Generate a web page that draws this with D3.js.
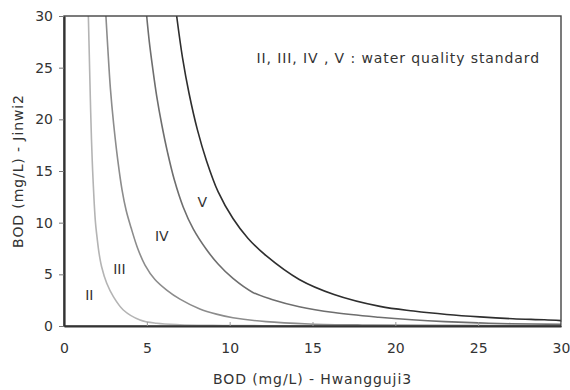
<!DOCTYPE html>
<html>
<head>
<meta charset="utf-8">
<script src="https://cdn.jsdelivr.net/npm/d3@7"></script>
<style>
  body { margin: 0; background: #fff; }
  text { font-family: "DejaVu Sans", "Liberation Sans", sans-serif; fill: #333; }
</style>
</head>
<body>
<div id="container"></div>
<script>
// curve points: [BOD Hwangguji3, BOD Jinwi2]
const curveII = [[1.47,30],[1.53,26],[1.59,22],[1.66,18],[1.73,15],[1.82,12],[1.9,10],[2,8.5],[2.12,7],[2.27,5.74],[2.58,4.13],[2.98,2.84],[3.58,1.55],[4.59,0.58],[5.6,0.26],[7,0.12],[9,0.06],[12,0.03],[30,0.02]]
const curveIII = [[2.53,30],[2.64,27],[2.8,23],[3,19.5],[3.25,16],[3.5,13.2],[3.75,11.2],[4.05,9.5],[4.45,7.5],[4.89,5.9],[5.49,4.5],[6.2,3.48],[7,2.6],[8.2,1.65],[9.2,1.15],[10.2,0.8],[12.2,0.42],[14.8,0.2],[18,0.1],[22,0.06],[30,0.04]]
const curveIV = [[4.99,30],[5.15,27.5],[5.35,25],[5.6,22.2],[5.9,19.5],[6.25,16.8],[6.65,14.2],[7.2,11.5],[7.8,9.4],[8.6,7.4],[9.3,6],[10.2,4.6],[11.4,3.25],[12.6,2.55],[14.2,1.87],[16.3,1.3],[19,0.85],[21,0.6],[23,0.42],[25,0.3],[27,0.22],[30,0.16]]
const curveV = [[6.8,30],[7.15,26],[7.55,22.5],[8.05,19],[8.6,16],[9.3,13],[10.2,10.4],[11.1,8.5],[12.2,6.8],[14.2,4.5],[16.3,3.05],[19.07,1.9],[21.1,1.45],[23.1,1.12],[25.1,0.88],[27.1,0.7],[29,0.6],[30,0.52]]

const xTicks = [0, 5, 10, 15, 20, 25, 30]
const yTicks = [0, 5, 10, 15, 20, 25, 30]

const series = [
    {name: 'II', data: curveII, color: '#b4b4b4', label: [1.53, 2.9]},
    {name: 'III', data: curveIII, color: '#8c8c8c', label: [3.34, 5.42]},
    {name: 'IV', data: curveIV, color: '#6e6e6e', label: [5.9, 8.65]},
    {name: 'V', data: curveV, color: '#2e2e2e', label: [8.35, 11.9]},
]

const config = {
    width: 570,
    height: 390,
    left: 64,
    right: 561,
    top: 16,
    bottom: 326,
}

const svg = d3.select('#container')
    .append('svg')
    .attr('width', config.width)
    .attr('height', config.height)

const xScale = d3.scaleLinear()
    .domain([0, 30])
    .range([config.left, config.right])

const yScale = d3.scaleLinear()
    .domain([0, 30])
    .range([config.bottom, config.top])

svg.append('defs')
    .append('clipPath')
    .attr('id', 'plot-clip')
    .append('rect')
    .attr('x', config.left)
    .attr('y', config.top)
    .attr('width', config.right - config.left)
    .attr('height', config.bottom - config.top)

const line = d3.line()
    .x(d => xScale(d[0]))
    .y(d => yScale(d[1]))
    .curve(d3.curveCatmullRom.alpha(0.5))

svg.append('g')
    .attr('clip-path', 'url(#plot-clip)')
    .selectAll('path')
    .data(series)
    .join('path')
    .attr('d', d => line(d.data))
    .attr('fill', 'none')
    .attr('stroke', d => d.color)
    .attr('stroke-width', 1.6)

// frame
svg.append('rect')
    .attr('x', config.left)
    .attr('y', config.top)
    .attr('width', config.right - config.left)
    .attr('height', config.bottom - config.top)
    .attr('fill', 'none')
    .attr('stroke', '#444')
    .attr('stroke-width', 1.4)

const xAxis = svg.append('g')
    .attr('transform', `translate(0,${config.bottom})`)
    .call(d3.axisBottom(xScale).tickValues(xTicks).tickSizeInner(-4).tickSizeOuter(0).tickPadding(17))
xAxis.select('.domain').attr('stroke', '#333').attr('stroke-width', 2.2)
xAxis.selectAll('.tick line').attr('stroke', '#999')
xAxis.selectAll('text').style('font-size', '14px').attr('fill', '#333')

const yAxis = svg.append('g')
    .attr('transform', `translate(${config.left},0)`)
    .call(d3.axisLeft(yScale).tickValues(yTicks).tickSize(5).tickSizeOuter(0).tickPadding(6))
yAxis.select('.domain').attr('stroke', '#333').attr('stroke-width', 2.2)
yAxis.selectAll('.tick line').attr('stroke', '#777')
yAxis.selectAll('text').style('font-size', '14px').attr('fill', '#333')

svg.append('text')
    .attr('text-anchor', 'middle')
    .attr('x', (config.left + config.right) / 2)
    .attr('y', 384)
    .style('font-size', '14px')
    .style('letter-spacing', '0.9px')
    .text('BOD (mg/L) - Hwangguji3')

svg.append('text')
    .attr('text-anchor', 'middle')
    .attr('transform', `translate(23,${(config.top + config.bottom) / 2}) rotate(-90)`)
    .style('font-size', '14px')
    .style('letter-spacing', '0.9px')
    .text('BOD (mg/L) - Jinwi2')

svg.append('text')
    .attr('text-anchor', 'end')
    .attr('x', 540)
    .attr('y', 63)
    .style('font-size', '14px')
    .style('letter-spacing', '0.9px')
    .text('II, III, IV , V  : water quality standard')

svg.append('g')
    .selectAll('text')
    .data(series)
    .join('text')
    .attr('text-anchor', 'middle')
    .attr('dominant-baseline', 'middle')
    .attr('x', d => xScale(d.label[0]))
    .attr('y', d => yScale(d.label[1]))
    .style('font-size', '14px')
    .text(d => d.name)
</script>
</body>
</html>
